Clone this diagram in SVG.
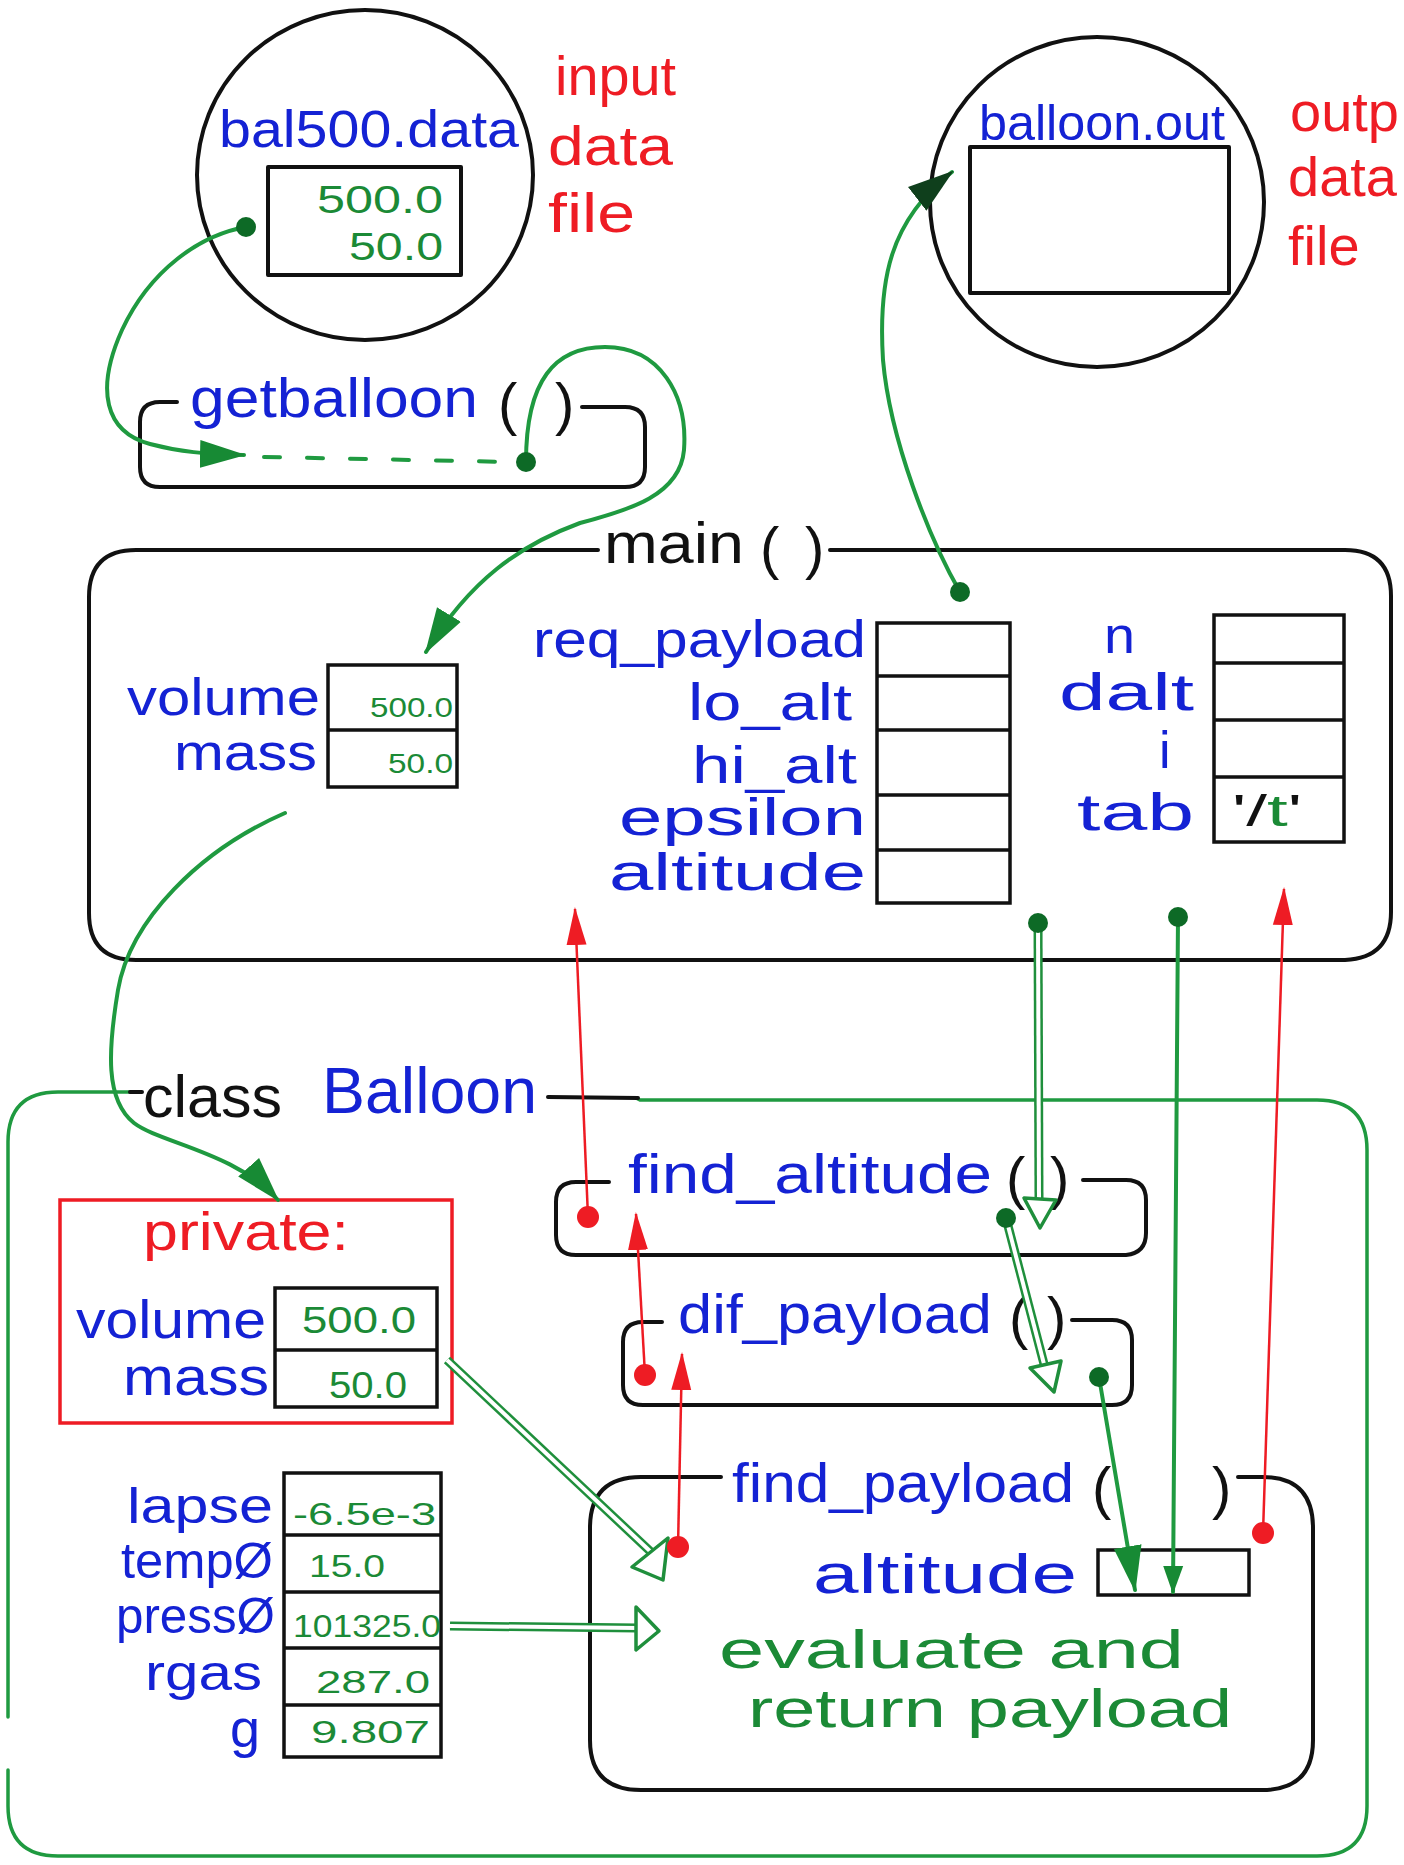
<svg xmlns="http://www.w3.org/2000/svg" width="1404" height="1865" viewBox="0 0 1404 1865">
<style>
text{font-family:"Liberation Sans","DejaVu Sans",sans-serif}
.b{fill:#1422d4}
.r{fill:#ee1c24}
.g{fill:#1b8a36}
.k{fill:#111}
.box{fill:none;stroke:#111;stroke-width:4;stroke-linejoin:round;stroke-linecap:round}
.cell{fill:none;stroke:#111;stroke-width:3.5}
.gbox{fill:none;stroke:#1f9a40;stroke-width:3.5;stroke-linecap:round}
.gl{fill:none;stroke:#1f9a40;stroke-width:4;stroke-linecap:round}
.rl{fill:none;stroke:#ee1c24;stroke-width:2.5}
.dbl{fill:none;stroke:#1f8f3c;stroke-width:9}
.dbli{fill:none;stroke:#fff;stroke-width:4}
.hol{fill:#fff;stroke:#1f8f3c;stroke-width:3.5;stroke-linejoin:round}
.gd{fill:#0d6a26}
.rd{fill:#ee1c24}
</style>
<defs>
<marker id="ahg" markerUnits="userSpaceOnUse" markerWidth="46" markerHeight="32" refX="44" refY="16" orient="auto"><path d="M0,2 L46,16 L0,30 z" fill="#178a34"/></marker>
<marker id="ahgs" markerUnits="userSpaceOnUse" markerWidth="28" markerHeight="22" refX="26" refY="11" orient="auto"><path d="M0,1 L28,11 L0,21 z" fill="#178a34"/></marker>
<marker id="ahd" markerUnits="userSpaceOnUse" markerWidth="46" markerHeight="34" refX="44" refY="17" orient="auto"><path d="M0,2 L46,17 L0,32 z" fill="#0f3f1c"/></marker>
<marker id="ahr" markerUnits="userSpaceOnUse" markerWidth="38" markerHeight="22" refX="36" refY="11" orient="auto"><path d="M0,1 L38,11 L0,21 z" fill="#ee1c24"/></marker>
</defs>

<g id="bal500-data">
<ellipse cx="365" cy="175" rx="168" ry="165" class="box"/>
<text x="219" y="147" font-size="52" textLength="300" lengthAdjust="spacingAndGlyphs" class="b">bal500.data</text>
<rect x="268" y="167" width="193" height="108" class="box"/>
<text x="317" y="213" font-size="38" textLength="126" lengthAdjust="spacingAndGlyphs" class="g">500.0</text>
<text x="349" y="260" font-size="38" textLength="94" lengthAdjust="spacingAndGlyphs" class="g">50.0</text>
<text x="555" y="95" font-size="56" textLength="121" lengthAdjust="spacingAndGlyphs" class="r">input</text>
<text x="548" y="165" font-size="56" textLength="125" lengthAdjust="spacingAndGlyphs" class="r">data</text>
<text x="548" y="232" font-size="56" textLength="87" lengthAdjust="spacingAndGlyphs" class="r">file</text>
</g>

<g id="balloon-out">
<ellipse cx="1097" cy="202" rx="167" ry="165" class="box"/>
<text x="979" y="140" font-size="50" textLength="246" lengthAdjust="spacingAndGlyphs" class="b">balloon.out</text>
<rect x="970" y="147" width="259" height="146" class="box"/>
<text x="1290" y="131" font-size="56" class="r">outp</text>
<text x="1288" y="196" font-size="56" class="r">data</text>
<text x="1288" y="265" font-size="56" class="r">file</text>
</g>

<g id="getballoon">
<path class="box" d="M177,402 H160 Q140,402 140,422 V467 Q140,487 160,487 H625 Q645,487 645,467 V427 Q645,407 625,407 H582"/>
<text x="190" y="417" font-size="56" textLength="288" lengthAdjust="spacingAndGlyphs" class="b">getballoon</text>
<text x="498" y="424" font-size="58" class="k">(</text>
<text x="555" y="424" font-size="58" class="k">)</text>
</g>

<g id="main">
<path class="box" d="M598,550 H136 Q89,550 89,597 V913 Q89,960 136,960 H1345 Q1391,958 1391,912 V596 Q1391,550 1345,550 H830"/>
<text x="604" y="563" font-size="58" textLength="140" lengthAdjust="spacingAndGlyphs" class="k">main</text>
<text x="760" y="568" font-size="58" class="k">(</text>
<text x="805" y="568" font-size="58" class="k">)</text>
<text x="127" y="715" font-size="52" textLength="193" lengthAdjust="spacingAndGlyphs" class="b">volume</text>
<text x="174" y="770" font-size="52" textLength="143" lengthAdjust="spacingAndGlyphs" class="b">mass</text>
<rect x="328" y="665" width="129" height="122" class="cell"/>
<line x1="328" y1="730" x2="457" y2="730" class="cell"/>
<text x="370" y="717" font-size="28" textLength="83" lengthAdjust="spacingAndGlyphs" class="g">500.0</text>
<text x="388" y="773" font-size="28" textLength="65" lengthAdjust="spacingAndGlyphs" class="g">50.0</text>
<g text-anchor="end" font-size="52" class="b">
<text x="866" y="657" textLength="333" lengthAdjust="spacingAndGlyphs">req_payload</text>
<text x="852" y="720" textLength="164" lengthAdjust="spacingAndGlyphs">lo_alt</text>
<text x="857" y="783" textLength="165" lengthAdjust="spacingAndGlyphs">hi_alt</text>
<text x="866" y="835" textLength="247" lengthAdjust="spacingAndGlyphs">epsilon</text>
<text x="866" y="890" textLength="257" lengthAdjust="spacingAndGlyphs">altitude</text>
</g>
<rect x="877" y="623" width="133" height="280" class="cell"/>
<path class="cell" d="M877,676 H1010 M877,730 H1010 M877,795 H1010 M877,850 H1010"/>
<text x="1104" y="653" font-size="52" textLength="31" lengthAdjust="spacingAndGlyphs" class="b">n</text>
<text x="1059" y="710" font-size="52" textLength="135" lengthAdjust="spacingAndGlyphs" class="b">dalt</text>
<text x="1159" y="768" font-size="52" class="b">i</text>
<text x="1077" y="830" font-size="52" textLength="117" lengthAdjust="spacingAndGlyphs" class="b">tab</text>
<rect x="1214" y="615" width="130" height="227" class="cell"/>
<path class="cell" d="M1214,663 H1344 M1214,720 H1344 M1214,777 H1344"/>
<text x="1232" y="826" font-size="44" textLength="70" lengthAdjust="spacingAndGlyphs" class="k">'/<tspan class="g">t</tspan>'</text>
</g>

<g id="class-balloon">
<path class="gbox" d="M134,1092 H58 Q8,1092 8,1142 V1717 M8,1770 V1806 Q8,1856 58,1856 H1317 Q1367,1856 1367,1806 V1150 Q1367,1100 1317,1100 H640 L636,1098"/>
<path class="box" d="M130,1092 H142 M548,1097 L638,1098"/>
<text x="143" y="1117" font-size="60" textLength="139" lengthAdjust="spacingAndGlyphs" class="k">class</text>
<text x="322" y="1113" font-size="64" textLength="215" lengthAdjust="spacingAndGlyphs" class="b">Balloon</text>
</g>

<g id="private">
<rect x="60" y="1200" width="392" height="223" fill="none" stroke="#ee1c24" stroke-width="3.5"/>
<text x="143" y="1250" font-size="54" textLength="206" lengthAdjust="spacingAndGlyphs" class="r">private:</text>
<text x="76" y="1338" font-size="54" textLength="190" lengthAdjust="spacingAndGlyphs" class="b">volume</text>
<text x="123" y="1395" font-size="54" textLength="146" lengthAdjust="spacingAndGlyphs" class="b">mass</text>
<rect x="275" y="1288" width="162" height="119" class="cell"/>
<line x1="275" y1="1350" x2="437" y2="1350" class="cell"/>
<text x="302" y="1333" font-size="36" textLength="114" lengthAdjust="spacingAndGlyphs" class="g">500.0</text>
<text x="329" y="1398" font-size="36" textLength="78" lengthAdjust="spacingAndGlyphs" class="g">50.0</text>
</g>

<g id="constants">
<g text-anchor="end" font-size="50" class="b">
<text x="273" y="1523" textLength="146" lengthAdjust="spacingAndGlyphs">lapse</text>
<text x="273" y="1578" textLength="152" lengthAdjust="spacingAndGlyphs">tempØ</text>
<text x="275" y="1633" textLength="159" lengthAdjust="spacingAndGlyphs">pressØ</text>
<text x="262" y="1690" textLength="117" lengthAdjust="spacingAndGlyphs">rgas</text>
<text x="260" y="1747" font-size="54">g</text>
</g>
<rect x="284" y="1473" width="157" height="284" class="cell"/>
<path class="cell" d="M284,1535 H441 M284,1592 H441 M284,1648 H441 M284,1705 H441"/>
<g font-size="32" class="g">
<text x="293" y="1525" textLength="143" lengthAdjust="spacingAndGlyphs">-6.5e-3</text>
<text x="309" y="1577" textLength="76" lengthAdjust="spacingAndGlyphs">15.0</text>
<text x="293" y="1637" textLength="148" lengthAdjust="spacingAndGlyphs">101325.0</text>
<text x="316" y="1693" textLength="114" lengthAdjust="spacingAndGlyphs">287.0</text>
<text x="311" y="1743" textLength="119" lengthAdjust="spacingAndGlyphs">9.807</text>
</g>
</g>

<g id="find-altitude">
<path class="box" d="M609,1182 H576 Q556,1182 556,1202 V1235 Q556,1255 576,1255 H1126 Q1146,1253 1146,1233 V1200 Q1146,1180 1126,1180 H1083"/>
<text x="628" y="1193" font-size="56" textLength="364" lengthAdjust="spacingAndGlyphs" class="b">find_altitude</text>
<text x="1006" y="1198" font-size="58" class="k">(</text>
<text x="1050" y="1198" font-size="58" class="k">)</text>
</g>

<g id="dif-payload">
<path class="box" d="M662,1322 H643 Q623,1322 623,1342 V1385 Q623,1405 643,1405 H1112 Q1132,1405 1132,1385 V1340 Q1132,1320 1112,1320 H1072"/>
<text x="678" y="1333" font-size="56" textLength="314" lengthAdjust="spacingAndGlyphs" class="b">dif_payload</text>
<text x="1009" y="1338" font-size="58" class="k">(</text>
<text x="1047" y="1338" font-size="58" class="k">)</text>
</g>

<g id="find-payload">
<path class="box" d="M721,1477 H641 Q590,1477 590,1528 V1740 Q590,1790 641,1790 H1262 Q1313,1790 1313,1740 V1528 Q1313,1477 1262,1477 H1238"/>
<text x="732" y="1502" font-size="56" textLength="342" lengthAdjust="spacingAndGlyphs" class="b">find_payload</text>
<text x="1092" y="1508" font-size="58" class="k">(</text>
<text x="1212" y="1508" font-size="58" class="k">)</text>
<text x="813" y="1593" font-size="56" textLength="264" lengthAdjust="spacingAndGlyphs" class="b">altitude</text>
<rect x="1098" y="1550" width="151" height="45" class="cell"/>
<text x="719" y="1668" font-size="54" textLength="465" lengthAdjust="spacingAndGlyphs" class="g">evaluate  and</text>
<text x="748" y="1727" font-size="54" textLength="484" lengthAdjust="spacingAndGlyphs" class="g">return  payload</text>
</g>

<g id="connectors">
<path class="gl" d="M246,227 C200,235 150,270 122,330 C95,390 105,432 150,444 C180,452 205,454 244,455" marker-end="url(#ahg)"/>
<path class="gl" d="M264,457 L512,462" stroke-dasharray="16 27"/>
<circle cx="246" cy="227" r="10" class="gd"/>
<path class="gl" d="M526,462 C526,380 555,347 605,347 C660,347 688,395 684,450 C680,495 630,510 580,523 C520,545 470,580 426,652" marker-end="url(#ahg)"/>
<circle cx="526" cy="462" r="10" class="gd"/>
<path class="gl" d="M960,592 C930,540 890,440 883,360 C878,280 890,220 952,172" marker-end="url(#ahd)"/>
<circle cx="960" cy="592" r="10" class="gd"/>
<path class="gl" d="M285,813 C200,850 130,920 118,990 C108,1050 105,1100 134,1123 C160,1143 235,1152 278,1200" marker-end="url(#ahg)"/>
<path class="dbl" d="M1038,923 L1039,1199"/>
<path class="dbli" d="M1038,923 L1039,1199"/>
<polygon class="hol" points="1024,1198 1056,1200 1040,1228"/>
<circle cx="1038" cy="923" r="10" class="gd"/>
<path class="dbl" d="M1006,1218 L1044,1364"/>
<path class="dbli" d="M1006,1218 L1044,1364"/>
<polygon class="hol" points="1030,1368 1061,1361 1054,1392"/>
<circle cx="1006" cy="1218" r="10" class="gd"/>
<path class="gl" d="M1178,917 L1173,1592" marker-end="url(#ahgs)"/>
<circle cx="1178" cy="917" r="10" class="gd"/>
<path class="gl" d="M1099,1377 L1135,1590" marker-end="url(#ahg)"/>
<circle cx="1099" cy="1377" r="10" class="gd"/>
<path class="dbl" d="M447,1360 L652,1553"/>
<path class="dbli" d="M447,1360 L652,1553"/>
<polygon class="hol" points="632,1567 668,1538 663,1580"/>
<path class="dbl" d="M450,1626 L638,1628"/>
<path class="dbli" d="M450,1626 L638,1628"/>
<polygon class="hol" points="636,1607 659,1631 636,1650"/>
<path class="rl" d="M588,1217 L575,909" marker-end="url(#ahr)"/>
<circle cx="588" cy="1217" r="11" class="rd"/>
<path class="rl" d="M645,1375 L636,1214" marker-end="url(#ahr)"/>
<circle cx="645" cy="1375" r="11" class="rd"/>
<path class="rl" d="M678,1547 L682,1354" marker-end="url(#ahr)"/>
<circle cx="678" cy="1547" r="11" class="rd"/>
<path class="rl" d="M1263,1533 L1284,889" marker-end="url(#ahr)"/>
<circle cx="1263" cy="1533" r="11" class="rd"/>
</g>
</svg>
